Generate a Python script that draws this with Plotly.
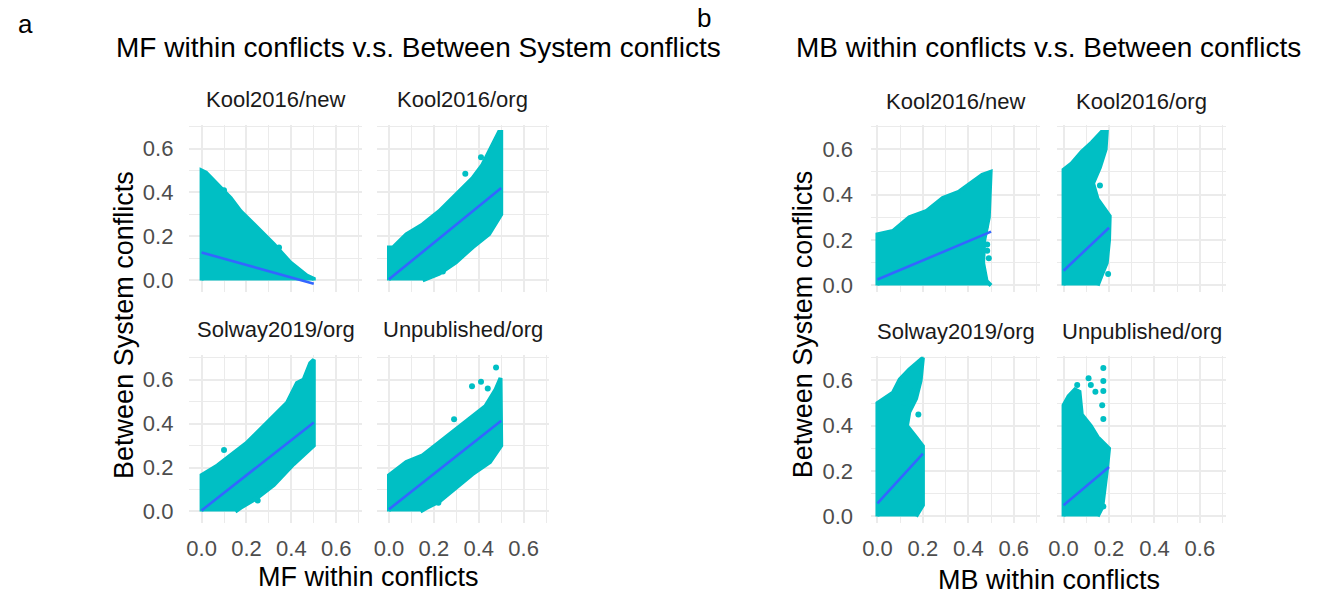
import plotly.graph_objects as go

W, H = 1321, 599
TEAL = "#00BFC4"
BLUE = "#3366FF"
FONT = "Liberation Sans, Arial, Helvetica, sans-serif"

FACETS = ["Kool2016/new", "Kool2016/org", "Solway2019/org", "Unpublished/org"]
TICKS = [0.0, 0.2, 0.4, 0.6]
TICK_TEXT = ["0.0", "0.2", "0.4", "0.6"]

# ---------- Panel a : MF within conflicts (x) vs Between System conflicts (y) ----------
A_KN_CLOUD_X = [0, 0, 0.02, 0.071, 0.13, 0.174, 0.248, 0.322, 0.395, 0.469, 0.5, 0.5]
A_KN_CLOUD_Y = [0, 0.50, 0.49, 0.435, 0.375, 0.315, 0.24, 0.165, 0.082, 0.022, 0.007, 0]
A_KN_OUT_X = [0.218, 0.10, 0.345]
A_KN_OUT_Y = [0.258, 0.41, 0.15]
A_KN_FIT_X = [0, 0.5]
A_KN_FIT_Y = [0.127, -0.015]

A_KO_CLOUD_X = [0, 0, 0.018, 0.077, 0.15, 0.224, 0.298, 0.372, 0.416, 0.46, 0.49, 0.5, 0.5, 0.446, 0.372, 0.298, 0.224, 0.15]
A_KO_CLOUD_Y = [0, 0.15, 0.15, 0.21, 0.255, 0.315, 0.39, 0.465, 0.525, 0.615, 0.675, 0.675, 0.30, 0.21, 0.15, 0.082, 0.03, 0]
A_KO_OUT_X = [0.24, 0.34, 0.41]
A_KO_OUT_Y = [0.04, 0.485, 0.56]
A_KO_FIT_X = [0, 0.5]
A_KO_FIT_Y = [0.005, 0.42]

A_SO_CLOUD_X = [0, 0, 0.071, 0.145, 0.204, 0.248, 0.322, 0.381, 0.425, 0.455, 0.484, 0.5, 0.5, 0.41, 0.322, 0.248, 0.174, 0.15]
A_SO_CLOUD_Y = [0, 0.165, 0.21, 0.27, 0.315, 0.36, 0.435, 0.495, 0.585, 0.60, 0.675, 0.69, 0.30, 0.215, 0.12, 0.062, 0.017, 0]
A_SO_OUT_X = [0.25, 0.10]
A_SO_OUT_Y = [0.05, 0.28]
A_SO_FIT_X = [0, 0.5]
A_SO_FIT_Y = [0.005, 0.405]

A_UN_CLOUD_X = [0, 0, 0.077, 0.15, 0.224, 0.298, 0.372, 0.43, 0.475, 0.497, 0.5, 0.45, 0.372, 0.298, 0.224, 0.165, 0.14]
A_UN_CLOUD_Y = [0, 0.165, 0.225, 0.255, 0.315, 0.375, 0.435, 0.48, 0.555, 0.607, 0.30, 0.225, 0.17, 0.11, 0.045, 0.015, 0]
A_UN_OUT_X = [0.477, 0.37, 0.41, 0.29, 0.22, 0.44, 0.485]
A_UN_OUT_Y = [0.655, 0.57, 0.59, 0.42, 0.04, 0.56, 0.52]
A_UN_FIT_X = [0, 0.5]
A_UN_FIT_Y = [0.01, 0.413]

# ---------- Panel b : MB within conflicts (x) vs Between conflicts (y) ----------
B_KN_CLOUD_X = [0, 0, 0.068, 0.14, 0.214, 0.287, 0.36, 0.418, 0.461, 0.498, 0.49, 0.47, 0.465, 0.48, 0.5]
B_KN_CLOUD_Y = [0, 0.225, 0.24, 0.30, 0.327, 0.385, 0.414, 0.458, 0.487, 0.50, 0.30, 0.20, 0.10, 0.02, 0]
B_KN_OUT_X = [0.483, 0.483, 0.476, 0.49]
B_KN_OUT_Y = [0.153, 0.18, 0.26, 0.12]
B_KN_FIT_X = [0, 0.5]
B_KN_FIT_Y = [0.026, 0.237]

B_KO_CLOUD_X = [0, 0, 0.036, 0.08, 0.124, 0.167, 0.19, 0.185, 0.16, 0.13, 0.15, 0.203, 0.2, 0.19, 0.17, 0.15]
B_KO_CLOUD_Y = [0, 0.51, 0.538, 0.59, 0.63, 0.676, 0.676, 0.60, 0.52, 0.45, 0.38, 0.305, 0.20, 0.10, 0.05, 0]
B_KO_OUT_X = [0.196, 0.09, 0.16]
B_KO_OUT_Y = [0.05, 0.48, 0.44]
B_KO_FIT_X = [0, 0.2]
B_KO_FIT_Y = [0.065, 0.254]

B_SO_CLOUD_X = [0, 0, 0.068, 0.098, 0.14, 0.185, 0.2, 0.19, 0.17, 0.14, 0.13, 0.17, 0.2, 0.2, 0.2, 0.17]
B_SO_CLOUD_Y = [0, 0.50, 0.546, 0.604, 0.648, 0.69, 0.70, 0.60, 0.52, 0.46, 0.40, 0.35, 0.31, 0.20, 0.05, 0]
B_SO_OUT_X = [0.19, 0.155, 0.18, 0.12]
B_SO_OUT_Y = [0.058, 0.55, 0.45, 0.50]
B_SO_FIT_X = [0, 0.2]
B_SO_FIT_Y = [0.058, 0.277]

B_UN_CLOUD_X = [0, 0, 0.022, 0.05, 0.07, 0.08, 0.12, 0.15, 0.18, 0.2, 0.19, 0.18, 0.17, 0.15]
B_UN_CLOUD_Y = [0, 0.49, 0.53, 0.56, 0.55, 0.45, 0.40, 0.35, 0.32, 0.30, 0.20, 0.10, 0.04, 0]
B_UN_OUT_X = [0.175, 0.11, 0.175, 0.175, 0.12, 0.17, 0.175, 0.175, 0.17, 0.06, 0.14]
B_UN_OUT_Y = [0.655, 0.61, 0.553, 0.597, 0.58, 0.49, 0.43, 0.044, 0.11, 0.58, 0.55]
B_UN_FIT_X = [0, 0.2]
B_UN_FIT_Y = [0.05, 0.218]

FACET_DATA = [
    (A_KN_CLOUD_X, A_KN_CLOUD_Y, A_KN_OUT_X, A_KN_OUT_Y, A_KN_FIT_X, A_KN_FIT_Y),
    (A_KO_CLOUD_X, A_KO_CLOUD_Y, A_KO_OUT_X, A_KO_OUT_Y, A_KO_FIT_X, A_KO_FIT_Y),
    (A_SO_CLOUD_X, A_SO_CLOUD_Y, A_SO_OUT_X, A_SO_OUT_Y, A_SO_FIT_X, A_SO_FIT_Y),
    (A_UN_CLOUD_X, A_UN_CLOUD_Y, A_UN_OUT_X, A_UN_OUT_Y, A_UN_FIT_X, A_UN_FIT_Y),
    (B_KN_CLOUD_X, B_KN_CLOUD_Y, B_KN_OUT_X, B_KN_OUT_Y, B_KN_FIT_X, B_KN_FIT_Y),
    (B_KO_CLOUD_X, B_KO_CLOUD_Y, B_KO_OUT_X, B_KO_OUT_Y, B_KO_FIT_X, B_KO_FIT_Y),
    (B_SO_CLOUD_X, B_SO_CLOUD_Y, B_SO_OUT_X, B_SO_OUT_Y, B_SO_FIT_X, B_SO_FIT_Y),
    (B_UN_CLOUD_X, B_UN_CLOUD_Y, B_UN_OUT_X, B_UN_OUT_Y, B_UN_FIT_X, B_UN_FIT_Y),
]

# ---------- layout geometry (pixels) ----------
COLS_PX = {"a": [(181.7, 355.0), (370.4, 543.7)], "b": [(868.0, 1038.0), (1055.4, 1225.4)]}
ROWS_PX = {"a": [(126.7, 295.0), (359.0, 528.0)], "b": [(126.7, 295.0), (360.0, 528.0)]}
XRANGE = {"a": [-0.054, 0.713], "b": [-0.028, 0.715]}
YRANGE = {"a": [[-0.053, 0.705], [-0.051, 0.71]], "b": [[-0.029, 0.705], [-0.0275, 0.706]]}
YSTANDOFF = {"a": 15, "b": 17}

fig = go.Figure()
layout = dict(
    width=W, height=H,
    margin=dict(l=0, r=0, t=0, b=0),
    paper_bgcolor="white", plot_bgcolor="white",
    showlegend=False,
    font=dict(family=FONT),
)
annotations = []

idx = 0
for panel in ["a", "b"]:
    for r in range(2):
        for c in range(2):
            idx += 1
            cx, cy, ox, oy, fx, fy = FACET_DATA[idx - 1]
            xa = "x" if idx == 1 else f"x{idx}"
            ya = "y" if idx == 1 else f"y{idx}"
            fig.add_trace(go.Scatter(x=cx, y=cy, xaxis=xa, yaxis=ya, mode="lines",
                                     fill="toself", fillcolor=TEAL,
                                     line=dict(color=TEAL, width=4), hoverinfo="skip"))
            fig.add_trace(go.Scatter(x=ox, y=oy, xaxis=xa, yaxis=ya, mode="markers",
                                     marker=dict(color=TEAL, size=6), hoverinfo="skip"))
            fig.add_trace(go.Scatter(x=fx, y=fy, xaxis=xa, yaxis=ya, mode="lines",
                                     line=dict(color=BLUE, width=2.6), hoverinfo="skip"))
            x0, x1 = COLS_PX[panel][c]
            y0, y1 = ROWS_PX[panel][r]
            axis_common = dict(
                showgrid=True, gridcolor="#EBEBEB", gridwidth=2,
                zeroline=False, showline=False, ticks="",
                tickmode="array", tickvals=TICKS, ticktext=TICK_TEXT,
                tickfont=dict(size=22, color="#4D4D4D", family=FONT),
                minor=dict(showgrid=True, gridcolor="#EBEBEB", gridwidth=1,
                           tickmode="array", tickvals=[0.1, 0.3, 0.5, 0.7]),
                fixedrange=True,
            )
            layout["xaxis" if idx == 1 else f"xaxis{idx}"] = dict(
                axis_common, domain=[x0 / W, x1 / W], anchor=ya,
                range=XRANGE[panel], showticklabels=(r == 1), ticklabelstandoff=10)
            layout["yaxis" if idx == 1 else f"yaxis{idx}"] = dict(
                axis_common, domain=[1 - y1 / H, 1 - y0 / H], anchor=xa,
                range=YRANGE[panel][r], showticklabels=(c == 0),
                ticklabelstandoff=YSTANDOFF[panel])
            strip_y = (101 if r == 0 else 333) if panel == "a" else (102.5 if r == 0 else 335)
            annotations.append(dict(text=FACETS[r * 2 + c], x=(x0 + x1) / 2 / W, y=1 - strip_y / H,
                                    xref="paper", yref="paper", showarrow=False,
                                    xanchor="center", yanchor="middle",
                                    font=dict(size=22, color="#1A1A1A", family=FONT)))

fig.update_layout(**layout)

TEXTS = [
    # text, x_px, y_px, size, angle
    ("a", 17, 24, 26, 0),
    ("b", 700, 18, 26, 0),
    ("MF within conflicts v.s. Between System conflicts", 412.5, 48, 28, 0),
    ("MB within conflicts v.s. Between conflicts", 1046.5, 48, 28, 0),
    ("Between System conflicts", 116, 328, 27, -90),
    ("Between System conflicts", 799, 328, 27, -90),
    ("MF within conflicts", 362, 583, 27, 0),
    ("MB within conflicts", 1047, 586, 27, 0),
]
for t, xp, yp, s, ang in TEXTS:
    annotations.append(dict(text=t, x=xp / W, y=1 - yp / H, xref="paper", yref="paper",
                            showarrow=False, xanchor="center", yanchor="middle",
                            textangle=ang, font=dict(size=s, color="black", family=FONT)))

fig.update_layout(annotations=annotations)
fig.write_html("out.html")
